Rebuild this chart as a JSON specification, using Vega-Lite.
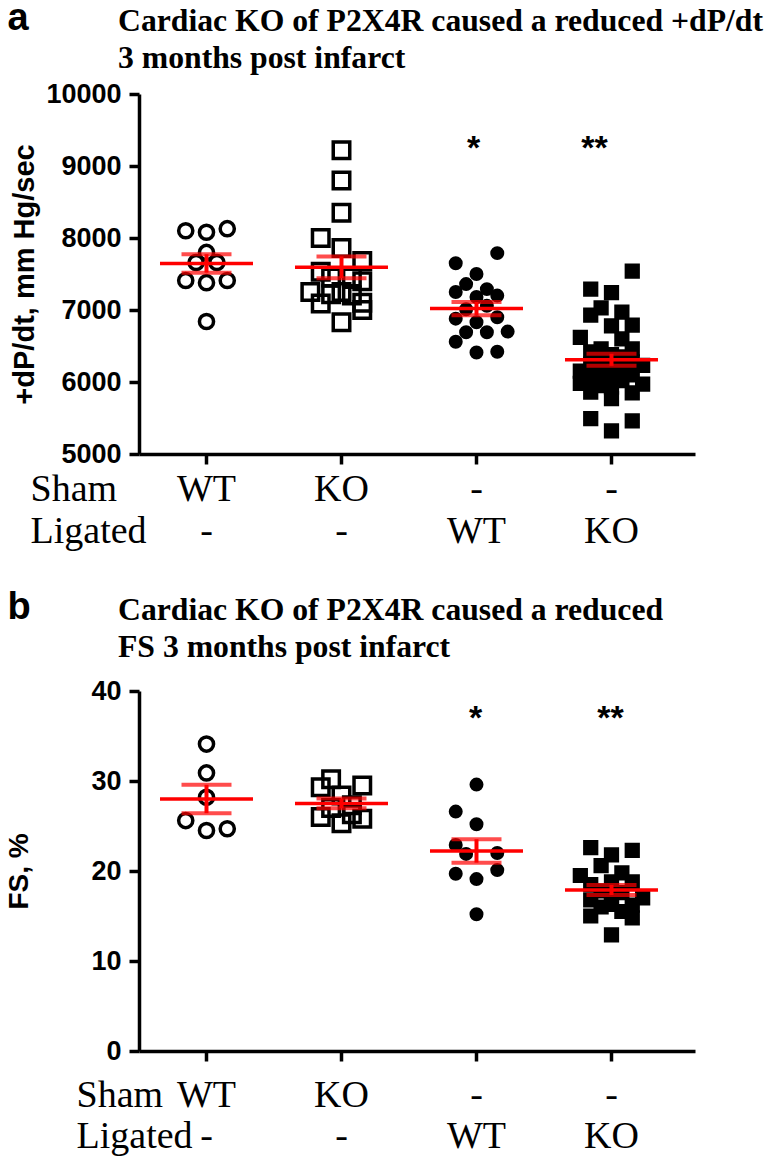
{
  "$schema": "https://vega.github.io/schema/vega-lite/v6.json",
  "background": "white",
  "padding": {"left": 5, "top": 0, "right": 5, "bottom": 5},
  "spacing": 39,
  "config": {
    "view": {"stroke": null},
    "axis": {"domainColor": "black", "tickColor": "black", "labelColor": "black", "titleColor": "black", "domainWidth": 3.5, "tickWidth": 3.5, "tickSize": 10, "grid": false}
  },
  "datasets": {
    "dpdt": [
      {"group": "WT|-", "value": 8100, "slot": -2}, {"group": "WT|-", "value": 8080, "slot": 0}, {"group": "WT|-", "value": 8130, "slot": 2},
      {"group": "WT|-", "value": 7800, "slot": 0}, {"group": "WT|-", "value": 7660, "slot": -1}, {"group": "WT|-", "value": 7660, "slot": 1},
      {"group": "WT|-", "value": 7410, "slot": -2}, {"group": "WT|-", "value": 7380, "slot": 0}, {"group": "WT|-", "value": 7410, "slot": 2},
      {"group": "WT|-", "value": 6840, "slot": 0},
      {"group": "KO|-", "value": 9220, "slot": 0}, {"group": "KO|-", "value": 8800, "slot": 0}, {"group": "KO|-", "value": 8350, "slot": 0},
      {"group": "KO|-", "value": 8000, "slot": -2}, {"group": "KO|-", "value": 7860, "slot": 0}, {"group": "KO|-", "value": 7680, "slot": 2},
      {"group": "KO|-", "value": 7450, "slot": -1}, {"group": "KO|-", "value": 7450, "slot": 1}, {"group": "KO|-", "value": 7530, "slot": -2},
      {"group": "KO|-", "value": 7400, "slot": 2}, {"group": "KO|-", "value": 7250, "slot": 0}, {"group": "KO|-", "value": 7250, "slot": -3},
      {"group": "KO|-", "value": 7220, "slot": -1}, {"group": "KO|-", "value": 7200, "slot": 1}, {"group": "KO|-", "value": 7100, "slot": 2},
      {"group": "KO|-", "value": 7090, "slot": -2}, {"group": "KO|-", "value": 7000, "slot": 2}, {"group": "KO|-", "value": 6830, "slot": 0},
      {"group": "-|WT", "value": 7790, "slot": 2}, {"group": "-|WT", "value": 7650, "slot": -2}, {"group": "-|WT", "value": 7500, "slot": 0},
      {"group": "-|WT", "value": 7360, "slot": -1}, {"group": "-|WT", "value": 7250, "slot": -2}, {"group": "-|WT", "value": 7290, "slot": 1},
      {"group": "-|WT", "value": 7200, "slot": 2}, {"group": "-|WT", "value": 7180, "slot": 0}, {"group": "-|WT", "value": 7060, "slot": 1},
      {"group": "-|WT", "value": 7010, "slot": -1}, {"group": "-|WT", "value": 6880, "slot": -2}, {"group": "-|WT", "value": 6900, "slot": 2},
      {"group": "-|WT", "value": 6830, "slot": 0}, {"group": "-|WT", "value": 6690, "slot": -1}, {"group": "-|WT", "value": 6690, "slot": 1},
      {"group": "-|WT", "value": 6700, "slot": 3}, {"group": "-|WT", "value": 6560, "slot": -2}, {"group": "-|WT", "value": 6410, "slot": 0},
      {"group": "-|WT", "value": 6420, "slot": 2},
      {"group": "-|KO", "value": 7540, "slot": 2}, {"group": "-|KO", "value": 7290, "slot": -2}, {"group": "-|KO", "value": 7240, "slot": 0},
      {"group": "-|KO", "value": 7030, "slot": -1}, {"group": "-|KO", "value": 6930, "slot": -2}, {"group": "-|KO", "value": 6970, "slot": 1},
      {"group": "-|KO", "value": 6790, "slot": 2}, {"group": "-|KO", "value": 6780, "slot": 0}, {"group": "-|KO", "value": 6620, "slot": -3},
      {"group": "-|KO", "value": 6600, "slot": 1}, {"group": "-|KO", "value": 6460, "slot": -1}, {"group": "-|KO", "value": 6460, "slot": 2},
      {"group": "-|KO", "value": 6420, "slot": -2}, {"group": "-|KO", "value": 6380, "slot": 0}, {"group": "-|KO", "value": 6350, "slot": 1},
      {"group": "-|KO", "value": 6300, "slot": -1}, {"group": "-|KO", "value": 6280, "slot": 2}, {"group": "-|KO", "value": 6250, "slot": -2},
      {"group": "-|KO", "value": 6230, "slot": 3}, {"group": "-|KO", "value": 6200, "slot": 0}, {"group": "-|KO", "value": 6180, "slot": 1},
      {"group": "-|KO", "value": 6150, "slot": -3}, {"group": "-|KO", "value": 6120, "slot": -1}, {"group": "-|KO", "value": 6100, "slot": 2},
      {"group": "-|KO", "value": 6080, "slot": 0}, {"group": "-|KO", "value": 6050, "slot": -2}, {"group": "-|KO", "value": 6020, "slot": 1},
      {"group": "-|KO", "value": 5980, "slot": -3}, {"group": "-|KO", "value": 5970, "slot": 3}, {"group": "-|KO", "value": 5950, "slot": -1},
      {"group": "-|KO", "value": 5930, "slot": 0}, {"group": "-|KO", "value": 5860, "slot": -2}, {"group": "-|KO", "value": 5850, "slot": 2},
      {"group": "-|KO", "value": 5770, "slot": 0}, {"group": "-|KO", "value": 5490, "slot": -2}, {"group": "-|KO", "value": 5460, "slot": 2},
      {"group": "-|KO", "value": 5320, "slot": 0}
    ],
    "fs": [
      {"group": "WT|-", "value": 34.1, "slot": 0}, {"group": "WT|-", "value": 30.9, "slot": 0}, {"group": "WT|-", "value": 28.2, "slot": 0},
      {"group": "WT|-", "value": 25.6, "slot": -2}, {"group": "WT|-", "value": 24.5, "slot": 0}, {"group": "WT|-", "value": 24.7, "slot": 2},
      {"group": "KO|-", "value": 30.2, "slot": -1}, {"group": "KO|-", "value": 29.3, "slot": -2}, {"group": "KO|-", "value": 29.5, "slot": 2},
      {"group": "KO|-", "value": 28.4, "slot": 0}, {"group": "KO|-", "value": 27.3, "slot": 1}, {"group": "KO|-", "value": 27.0, "slot": -1},
      {"group": "KO|-", "value": 26.0, "slot": -2}, {"group": "KO|-", "value": 25.8, "slot": 2}, {"group": "KO|-", "value": 25.3, "slot": 0},
      {"group": "KO|-", "value": 26.3, "slot": 1},
      {"group": "-|WT", "value": 29.6, "slot": 0}, {"group": "-|WT", "value": 26.6, "slot": -2}, {"group": "-|WT", "value": 25.2, "slot": 0},
      {"group": "-|WT", "value": 22.9, "slot": -2}, {"group": "-|WT", "value": 22.0, "slot": 2}, {"group": "-|WT", "value": 21.9, "slot": -1},
      {"group": "-|WT", "value": 19.7, "slot": -2}, {"group": "-|WT", "value": 20.1, "slot": 2}, {"group": "-|WT", "value": 19.1, "slot": 0},
      {"group": "-|WT", "value": 15.2, "slot": 0},
      {"group": "-|KO", "value": 22.6, "slot": -2}, {"group": "-|KO", "value": 21.8, "slot": 0}, {"group": "-|KO", "value": 22.3, "slot": 2},
      {"group": "-|KO", "value": 20.6, "slot": -1}, {"group": "-|KO", "value": 19.8, "slot": 1}, {"group": "-|KO", "value": 19.5, "slot": -3},
      {"group": "-|KO", "value": 18.8, "slot": 2}, {"group": "-|KO", "value": 18.8, "slot": 0}, {"group": "-|KO", "value": 18.5, "slot": -2},
      {"group": "-|KO", "value": 17.6, "slot": 1}, {"group": "-|KO", "value": 17.8, "slot": -1}, {"group": "-|KO", "value": 17.0, "slot": 3},
      {"group": "-|KO", "value": 17.2, "slot": 0}, {"group": "-|KO", "value": 16.8, "slot": -2}, {"group": "-|KO", "value": 16.2, "slot": 2},
      {"group": "-|KO", "value": 16.0, "slot": -1}, {"group": "-|KO", "value": 15.5, "slot": 1}, {"group": "-|KO", "value": 15.0, "slot": -2},
      {"group": "-|KO", "value": 14.8, "slot": 2}, {"group": "-|KO", "value": 12.9, "slot": 0}, {"group": "-|KO", "value": 16.3, "slot": 0}
    ],
    "starsA": [
      {"group": "-|WT", "label": "*", "level": 9100}, {"group": "-|KO", "label": "**", "level": 9100}
    ],
    "starsB": [
      {"group": "-|WT", "label": "*", "level": 35.8}, {"group": "-|KO", "label": "**", "level": 35.8}
    ],
    "letterA": [{"group": "WT|-", "letter": "a", "level": 10000}],
    "letterB": [{"group": "WT|-", "letter": "b", "level": 40}]
  },
  "vconcat": [
    {
      "width": 556,
      "height": 360,
      "title": {"text": ["Cardiac KO of P2X4R caused a reduced +dP/dt", "3 months post infarct"], "anchor": "start", "frame": "group", "dx": -21, "offset": -75, "font": "Liberation Serif", "fontSize": 31.7, "fontWeight": "bold", "lineHeight": 37, "color": "black"},
      "encoding": {
        "x": {"field": "group", "type": "nominal", "sort": null,
          "scale": {"domain": ["WT|-", "KO|-", "-|WT", "-|KO"], "paddingInner": 0, "paddingOuter": 0.0593, "align": 0},
          "axis": {"title": ["Sham", "Ligated"], "labelExpr": "split(datum.label, '|')", "labelAngle": 0, "labelOverlap": false,
            "labelFont": "Liberation Serif", "labelFontSize": 38, "labelFontWeight": "normal", "labelLineHeight": 42, "labelBaseline": "top", "labelPadding": 6,
            "titleFont": "Liberation Serif", "titleFontSize": 38, "titleFontWeight": "normal", "titleLineHeight": 42,
            "titleX": -109, "titleY": 16, "titleAlign": "left", "titleBaseline": "top", "titleAngle": 0}},
        "y": {"field": "value", "type": "quantitative", "title": "+dP/dt, mm Hg/sec",
          "scale": {"domain": [5000, 10000], "nice": false, "zero": false},
          "axis": {"values": [5000, 6000, 7000, 8000, 9000, 10000], "format": "d",
            "labelFont": "Liberation Sans", "labelFontSize": 27, "labelFontWeight": "bold", "labelPadding": 8,
            "titleFont": "Liberation Sans", "titleFontSize": 29, "titleFontWeight": "bold", "titleX": -100}}
      },
      "layer": [
        {
          "data": {"name": "dpdt"},
          "mark": {"type": "point", "filled": true, "fill": "black", "stroke": "black", "strokeWidth": 3.5, "opacity": 1},
          "encoding": {
            "xOffset": {"field": "slot", "type": "ordinal", "scale": {"domain": [-6, -5, -4, -3, -2, -1, 0, 1, 2, 3, 4, 5, 6]}},
            "shape": {"field": "group", "type": "nominal", "scale": {"domain": ["WT|-", "KO|-", "-|WT", "-|KO"], "range": ["circle", "square", "circle", "square"]}, "legend": null},
            "fillOpacity": {"field": "group", "type": "nominal", "scale": {"type": "ordinal", "domain": ["WT|-", "KO|-", "-|WT", "-|KO"], "range": [0, 0, 1, 1]}, "legend": null},
            "size": {"field": "group", "type": "nominal", "scale": {"type": "ordinal", "domain": ["WT|-", "KO|-", "-|WT", "-|KO"], "range": [200, 272, 110, 138]}, "legend": null}
          }
        },
        {
          "data": {"name": "dpdt"},
          "mark": {"type": "errorbar", "extent": "stderr", "color": "#ff0000", "ticks": {"size": 50, "thickness": 4}, "rule": {"strokeWidth": 4}}
        },
        {
          "data": {"name": "dpdt"},
          "mark": {"type": "tick", "color": "#ff0000", "thickness": 3.5, "size": 93, "opacity": 1},
          "encoding": {"y": {"aggregate": "mean", "field": "value", "type": "quantitative", "title": "+dP/dt, mm Hg/sec"}}
        },
        {
          "data": {"name": "starsA"},
          "transform": [{"filter": "datum.label == '*'"}],
          "mark": {"type": "text", "font": "Liberation Sans", "fontSize": 34, "fontWeight": "bold", "color": "black", "baseline": "alphabetic", "dx": -3},
          "encoding": {"y": {"field": "level", "type": "quantitative"}, "text": {"field": "label", "type": "nominal"}}
        },
        {
          "data": {"name": "starsA"},
          "transform": [{"filter": "datum.label == '**'"}],
          "mark": {"type": "text", "font": "Liberation Sans", "fontSize": 34, "fontWeight": "bold", "color": "black", "baseline": "alphabetic", "dx": -17},
          "encoding": {"y": {"field": "level", "type": "quantitative"}, "text": {"field": "label", "type": "nominal"}}
        },
        {
          "data": {"name": "letterA"},
          "mark": {"type": "text", "font": "Liberation Sans", "fontSize": 38, "fontWeight": "bold", "color": "black", "align": "left", "baseline": "alphabetic", "dx": -199, "dy": -64},
          "encoding": {"y": {"field": "level", "type": "quantitative"}, "text": {"field": "letter", "type": "nominal"}}
        }
      ]
    },
    {
      "width": 556,
      "height": 360,
      "title": {"text": ["Cardiac KO of P2X4R caused a reduced", "FS 3 months post infarct"], "anchor": "start", "frame": "group", "dx": -21, "offset": -75, "font": "Liberation Serif", "fontSize": 31.7, "fontWeight": "bold", "lineHeight": 37, "color": "black"},
      "encoding": {
        "x": {"field": "group", "type": "nominal", "sort": null,
          "scale": {"domain": ["WT|-", "KO|-", "-|WT", "-|KO"], "paddingInner": 0, "paddingOuter": 0.0593, "align": 0},
          "axis": {"title": ["Sham", "Ligated"], "labelExpr": "split(datum.label, '|')", "labelAngle": 0, "labelOverlap": false,
            "labelFont": "Liberation Serif", "labelFontSize": 38, "labelFontWeight": "normal", "labelLineHeight": 41, "labelBaseline": "top", "labelPadding": 15,
            "titleFont": "Liberation Serif", "titleFontSize": 38, "titleFontWeight": "normal", "titleLineHeight": 41,
            "titleX": -63, "titleY": 25, "titleAlign": "left", "titleBaseline": "top", "titleAngle": 0}},
        "y": {"field": "value", "type": "quantitative", "title": "FS, %",
          "scale": {"domain": [0, 40], "nice": false, "zero": true},
          "axis": {"values": [0, 10, 20, 30, 40], "format": "d",
            "labelFont": "Liberation Sans", "labelFontSize": 27, "labelFontWeight": "bold", "labelPadding": 8,
            "titleFont": "Liberation Sans", "titleFontSize": 28, "titleFontWeight": "bold", "titleX": -106}}
      },
      "layer": [
        {
          "data": {"name": "fs"},
          "mark": {"type": "point", "filled": true, "fill": "black", "stroke": "black", "strokeWidth": 3.5, "opacity": 1},
          "encoding": {
            "xOffset": {"field": "slot", "type": "ordinal", "scale": {"domain": [-6, -5, -4, -3, -2, -1, 0, 1, 2, 3, 4, 5, 6]}},
            "shape": {"field": "group", "type": "nominal", "scale": {"domain": ["WT|-", "KO|-", "-|WT", "-|KO"], "range": ["circle", "square", "circle", "square"]}, "legend": null},
            "fillOpacity": {"field": "group", "type": "nominal", "scale": {"type": "ordinal", "domain": ["WT|-", "KO|-", "-|WT", "-|KO"], "range": [0, 0, 1, 1]}, "legend": null},
            "size": {"field": "group", "type": "nominal", "scale": {"type": "ordinal", "domain": ["WT|-", "KO|-", "-|WT", "-|KO"], "range": [200, 250, 110, 138]}, "legend": null}
          }
        },
        {
          "data": {"name": "fs"},
          "mark": {"type": "errorbar", "extent": "stderr", "color": "#ff0000", "ticks": {"size": 50, "thickness": 4}, "rule": {"strokeWidth": 4}}
        },
        {
          "data": {"name": "fs"},
          "mark": {"type": "tick", "color": "#ff0000", "thickness": 3.5, "size": 93, "opacity": 1},
          "encoding": {"y": {"aggregate": "mean", "field": "value", "type": "quantitative", "title": "FS, %"}}
        },
        {
          "data": {"name": "starsB"},
          "mark": {"type": "text", "font": "Liberation Sans", "fontSize": 34, "fontWeight": "bold", "color": "black", "baseline": "alphabetic", "dx": -1},
          "encoding": {"y": {"field": "level", "type": "quantitative"}, "text": {"field": "label", "type": "nominal"}}
        },
        {
          "data": {"name": "letterB"},
          "mark": {"type": "text", "font": "Liberation Sans", "fontSize": 38, "fontWeight": "bold", "color": "black", "align": "left", "baseline": "alphabetic", "dx": -199, "dy": -72},
          "encoding": {"y": {"field": "level", "type": "quantitative"}, "text": {"field": "letter", "type": "nominal"}}
        }
      ]
    }
  ]
}
